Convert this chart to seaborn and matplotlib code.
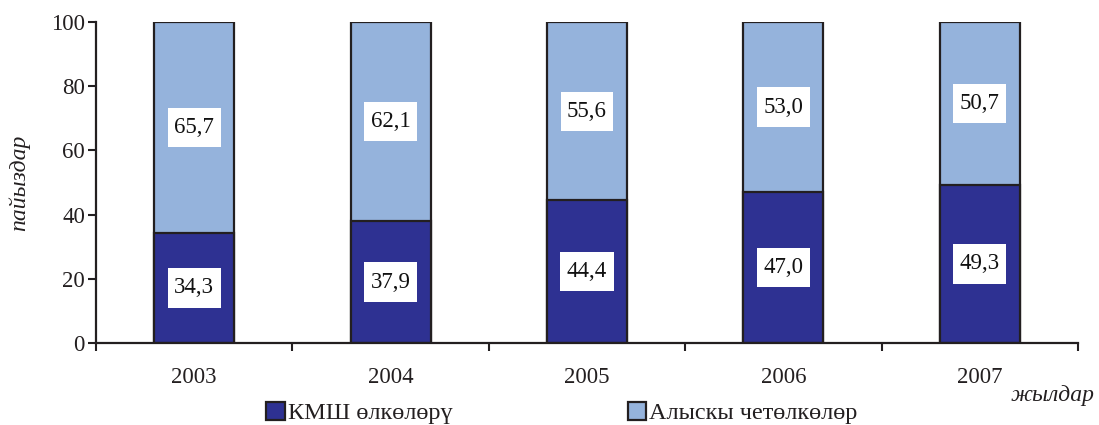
import matplotlib
matplotlib.use("Agg")
import matplotlib.pyplot as plt
import seaborn as sns
import pandas as pd
from matplotlib.patches import Patch
from matplotlib.path import Path

# Share of trade, percent
years = ["2003", "2004", "2005", "2006", "2007"]
cis_share = [34.3, 37.9, 44.4, 47.0, 49.3]
far_abroad_share = [65.7, 62.1, 55.6, 53.0, 50.7]
series_names = ["КМШ өлкөлөрү", "Алыскы четөлкөлөр"]
y_ticks = [0, 20, 40, 60, 80, 100]
y_label = "пайыздар"
x_label = "жылдар"

dark_blue = "#2E3192"
light_blue = "#95B3DC"
edge = "#231F20"

sns.set_theme(style="white")
plt.rcParams["font.family"] = ["Liberation Serif", "DejaVu Serif"]
plt.rcParams["text.color"] = edge
plt.rcParams["axes.labelcolor"] = edge

df = pd.DataFrame({
    "year": years,
    "cis": cis_share,
    "far": far_abroad_share,
})
df["total"] = df["cis"] + df["far"]


def label_box(x0, y0, width, height, mutation_size):
    """White label box: narrow side padding, taller fixed height."""
    px = 0.28 * mutation_size
    h = 1.72 * mutation_size
    cy = y0 + height / 2
    left, right = x0 - px, x0 + width + px
    bottom, top = cy - h / 2, cy + h / 2
    return Path([(left, bottom), (right, bottom), (right, top), (left, top), (left, bottom)],
                closed=True)


fig = plt.figure(figsize=(10.99, 4.25), dpi=100)
ax = fig.add_axes([96 / 1099, 1 - 343 / 425, (1078 - 96) / 1099, (343 - 22) / 425])

bar_w = 80 / 196.5
sns.barplot(data=df, x="year", y="total", color=light_blue, width=bar_w,
            edgecolor=edge, linewidth=1.6, saturation=1, ax=ax)
sns.barplot(data=df, x="year", y="cis", color=dark_blue, width=bar_w,
            edgecolor=edge, linewidth=1.6, saturation=1, ax=ax)

box = dict(boxstyle=label_box, facecolor="white", edgecolor="none")
for i, (c, f) in enumerate(zip(cis_share, far_abroad_share)):
    ax.text(i, c / 2, f"{c:.1f}".replace(".", ","), ha="center", va="center",
            fontsize=16.5, bbox=box, color="#111111")
    ax.text(i, c + f / 2, f"{f:.1f}".replace(".", ","), ha="center", va="center",
            fontsize=16.5, bbox=box, color="#111111")

ax.set_xlim(-0.5, len(years) - 0.5)
ax.set_ylim(0, 100)
ax.set_yticks(y_ticks)
ax.set_yticklabels([str(t) for t in y_ticks], fontsize=16.5, color=edge)
ax.set_xticks(range(len(years)))
ax.set_xticklabels(years, fontsize=16.5, color=edge)
ax.set_xticks([i - 0.5 for i in range(len(years) + 1)], minor=True)
ax.tick_params(axis="x", which="major", length=0, pad=17)
ax.tick_params(axis="x", which="minor", length=6, width=1.5, color=edge, direction="out", bottom=True)
ax.tick_params(axis="y", which="major", length=6, width=1.5, color=edge, direction="out", left=True, pad=2)

for s in ["top", "right"]:
    ax.spines[s].set_visible(False)
for s in ["left", "bottom"]:
    ax.spines[s].set_color(edge)
    ax.spines[s].set_linewidth(1.6)

ax.set_xlabel("")
ax.set_ylabel(y_label, fontsize=17, style="italic", labelpad=15)
fig.text(1095 / 1099, 1 - 396 / 425, x_label, fontsize=17, style="italic",
         ha="right", va="center", color=edge)

handles = [Patch(facecolor=dark_blue, edgecolor=edge, linewidth=1.6),
           Patch(facecolor=light_blue, edgecolor=edge, linewidth=1.6)]
fig.legend(handles, series_names, loc="center left",
           bbox_to_anchor=(266 / 1099, 1 - 413 / 425), ncol=2, frameon=False,
           fontsize=17.5, handlelength=0.78, handleheight=0.75, handletextpad=0.12,
           columnspacing=7.2, borderpad=0, borderaxespad=0)

fig.savefig("out.png", dpi=100)
